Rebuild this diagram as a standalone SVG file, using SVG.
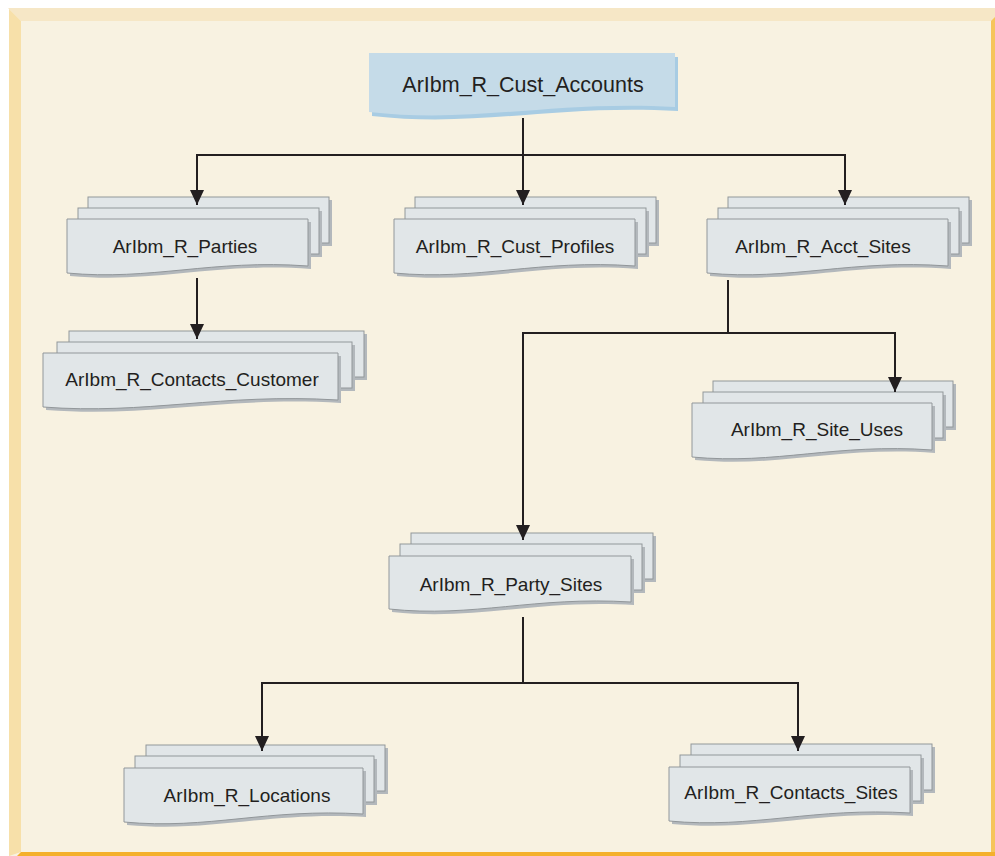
<svg xmlns="http://www.w3.org/2000/svg" width="995" height="856" viewBox="0 0 995 856">
<style>
.pg{fill:#e1e6e8;stroke:#92979a;stroke-width:1}
.sh{fill:#b3b8bc}
.lbl{font-family:"Liberation Sans",Arial,sans-serif;font-size:19px;fill:#231f20;text-anchor:middle}
.conn{fill:none;stroke:#231f20;stroke-width:2}
</style>
<defs>
<marker id="ah" markerUnits="userSpaceOnUse" markerWidth="15" markerHeight="14" viewBox="0 0 15 14" refX="15" refY="7" orient="auto">
<path d="M0,0 L15,7 L0,14 Z" fill="#231f20"/>
</marker>
</defs>
<rect x="0" y="0" width="995" height="856" fill="#ffffff"/>
<g id="frame">
<rect x="9" y="8" width="986" height="848" fill="#f8f2e1"/>
<polygon points="8,8 995,8 995,21 21,21" fill="#f6e7c6"/>
<polygon points="9,9 21,21 21,852 9,856" fill="#f7e0a9"/>
<polygon points="991,21 995,17 995,856 991,852" fill="#f6c55b"/>
<polygon points="21,852 995,852 995,856 17,856" fill="#f4b02c"/>
</g>

<g id="n-cust-accounts">
<path transform="translate(3,4)" d="M369,53 H675 V107 C553,100 476,124 369,112 Z" fill="#a8cce3"/>
<path d="M369,53 H675 V107 C553,100 476,124 369,112 Z" fill="#c5dbe8"/>
<text x="523" y="92" class="lbl" style="font-size:21.5px">ArIbm_R_Cust_Accounts</text>
</g>

<g id="n-parties">
<rect x="91" y="200" width="241" height="46" class="sh"/><rect x="88" y="197" width="241" height="46" class="pg"/>
<rect x="81" y="211" width="241" height="46" class="sh"/><rect x="78" y="208" width="241" height="46" class="pg"/>
<path transform="translate(3,3)" d="M67,219 H308 V266 C212,259 151,281 67,273 Z" class="sh"/>
<path d="M67,219 H308 V266 C212,259 151,281 67,273 Z" class="pg"/>
<text x="185" y="253" class="lbl">ArIbm_R_Parties</text>
</g>

<g id="n-cust-profiles">
<rect x="418" y="200" width="241" height="46" class="sh"/><rect x="415" y="197" width="241" height="46" class="pg"/>
<rect x="408" y="211" width="241" height="46" class="sh"/><rect x="405" y="208" width="241" height="46" class="pg"/>
<path transform="translate(3,3)" d="M394,219 H635 V266 C539,259 478,281 394,273 Z" class="sh"/>
<path d="M394,219 H635 V266 C539,259 478,281 394,273 Z" class="pg"/>
<text x="515" y="253" class="lbl">ArIbm_R_Cust_Profiles</text>
</g>

<g id="n-acct-sites">
<rect x="731" y="200" width="241" height="46" class="sh"/><rect x="728" y="197" width="241" height="46" class="pg"/>
<rect x="721" y="211" width="241" height="46" class="sh"/><rect x="718" y="208" width="241" height="46" class="pg"/>
<path transform="translate(3,3)" d="M707,219 H948 V266 C852,259 791,281 707,273 Z" class="sh"/>
<path d="M707,219 H948 V266 C852,259 791,281 707,273 Z" class="pg"/>
<text x="823" y="253" class="lbl">ArIbm_R_Acct_Sites</text>
</g>

<g id="n-contacts-customer">
<rect x="72" y="334" width="295" height="46" class="sh"/><rect x="69" y="331" width="295" height="46" class="pg"/>
<rect x="60" y="345" width="295" height="46" class="sh"/><rect x="57" y="342" width="295" height="46" class="pg"/>
<path transform="translate(3,3)" d="M43,353 H338 V400 C221,393 146,415 43,407 Z" class="sh"/>
<path d="M43,353 H338 V400 C221,393 146,415 43,407 Z" class="pg"/>
<text x="192" y="386" class="lbl">ArIbm_R_Contacts_Customer</text>
</g>

<g id="n-site-uses">
<rect x="716" y="384" width="240" height="46" class="sh"/><rect x="713" y="381" width="240" height="46" class="pg"/>
<rect x="706" y="395" width="240" height="46" class="sh"/><rect x="703" y="392" width="240" height="46" class="pg"/>
<path transform="translate(3,3)" d="M692,403 H932 V450 C836,443 776,465 692,457 Z" class="sh"/>
<path d="M692,403 H932 V450 C836,443 776,465 692,457 Z" class="pg"/>
<text x="817" y="436" class="lbl">ArIbm_R_Site_Uses</text>
</g>

<g id="n-party-sites">
<rect x="414" y="536" width="242" height="46" class="sh"/><rect x="411" y="533" width="242" height="46" class="pg"/>
<rect x="403" y="547" width="242" height="46" class="sh"/><rect x="400" y="544" width="242" height="46" class="pg"/>
<path transform="translate(3,3)" d="M389,556 H631 V602 C534,596 474,618 389,609 Z" class="sh"/>
<path d="M389,556 H631 V602 C534,596 474,618 389,609 Z" class="pg"/>
<text x="511" y="591" class="lbl">ArIbm_R_Party_Sites</text>
</g>

<g id="n-locations">
<rect x="149" y="748" width="239" height="46" class="sh"/><rect x="146" y="745" width="239" height="46" class="pg"/>
<rect x="138" y="759" width="239" height="46" class="sh"/><rect x="135" y="756" width="239" height="46" class="pg"/>
<path transform="translate(3,3)" d="M124,768 H363 V814 C267,808 208,830 124,822 Z" class="sh"/>
<path d="M124,768 H363 V814 C267,808 208,830 124,822 Z" class="pg"/>
<text x="247" y="802" class="lbl">ArIbm_R_Locations</text>
</g>

<g id="n-contacts-sites">
<rect x="694" y="747" width="241" height="46" class="sh"/><rect x="691" y="744" width="241" height="46" class="pg"/>
<rect x="683" y="758" width="241" height="46" class="sh"/><rect x="680" y="755" width="241" height="46" class="pg"/>
<path transform="translate(3,3)" d="M669,767 H910 V813 C814,807 753,829 669,821 Z" class="sh"/>
<path d="M669,767 H910 V813 C814,807 753,829 669,821 Z" class="pg"/>
<text x="791" y="799" class="lbl">ArIbm_R_Contacts_Sites</text>
</g>

<g id="connectors">
<path class="conn" d="M523,118 V155 H197 V205" marker-end="url(#ah)"/>
<path class="conn" d="M523,118 V205" marker-end="url(#ah)"/>
<path class="conn" d="M523,118 V155 H845 V205" marker-end="url(#ah)"/>
<path class="conn" d="M197,278 V339" marker-end="url(#ah)"/>
<path class="conn" d="M728,280 V333 H895 V392" marker-end="url(#ah)"/>
<path class="conn" d="M728,280 V333 H523 V540" marker-end="url(#ah)"/>
<path class="conn" d="M523,617 V683 H262 V751" marker-end="url(#ah)"/>
<path class="conn" d="M523,617 V683 H798 V751" marker-end="url(#ah)"/>
</g>
</svg>
